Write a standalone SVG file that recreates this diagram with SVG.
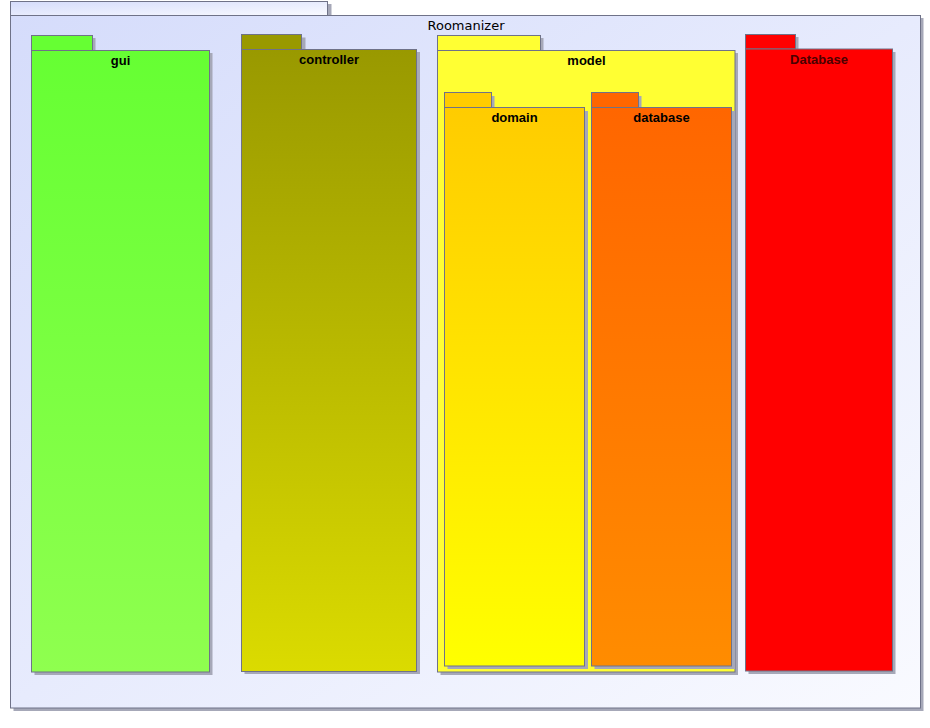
<svg xmlns="http://www.w3.org/2000/svg" width="930" height="728" viewBox="0 0 930 728">
<defs>
<linearGradient id="gOuter" x1="0" y1="0" x2="1" y2="1"><stop offset="0" stop-color="#d5dcfb"/><stop offset="1" stop-color="#f9faff"/></linearGradient>
<linearGradient id="gGui" x1="0" y1="0" x2="0" y2="1"><stop offset="0" stop-color="#66ff33"/><stop offset="1" stop-color="#8fff4f"/></linearGradient>
<linearGradient id="gCtl" x1="0" y1="0" x2="0" y2="1"><stop offset="0" stop-color="#999900"/><stop offset="1" stop-color="#dbdb00"/></linearGradient>
<linearGradient id="gDom" x1="0" y1="0" x2="0" y2="1"><stop offset="0" stop-color="#ffcc00"/><stop offset="1" stop-color="#ffff00"/></linearGradient>
<linearGradient id="gDb" x1="0" y1="0" x2="0" y2="1"><stop offset="0" stop-color="#ff6600"/><stop offset="1" stop-color="#ff8c00"/></linearGradient>
</defs>
<style>
.sh{fill:#a6a8b8}
.b{stroke:#6f7288;stroke-width:1}
.t{font-family:"Liberation Sans",Arial,sans-serif;font-size:13px;font-weight:bold;text-anchor:middle;fill:#000}
.tr{font-family:"DejaVu Sans","Liberation Sans",sans-serif;font-size:13px;text-anchor:middle;fill:#000}
</style>
<rect width="930" height="728" fill="#ffffff"/>
<g id="Roomanizer">
<rect class="sh" x="13.5" y="4" width="318" height="14"/>
<rect class="sh" x="13.5" y="18" width="910" height="693"/>
<rect class="b" x="10.5" y="1.5" width="317" height="14" fill="url(#gOuter)"/>
<rect class="b" x="10.5" y="15.5" width="910" height="692.5" fill="url(#gOuter)"/>
<text class="tr" x="466" y="30">Roomanizer</text>
</g>
<g id="gui">
<rect class="sh" x="34.5" y="38" width="61" height="15"/>
<rect class="sh" x="34.5" y="53" width="178" height="622"/>
<rect class="b" x="31.5" y="35.5" width="61" height="15" fill="#66ff33"/>
<rect class="b" x="31.5" y="50.5" width="178" height="621.5" fill="url(#gGui)"/>
<text class="t" x="120.5" y="65">gui</text>
</g>
<g id="controller">
<rect class="sh" x="244.5" y="37.5" width="61" height="15"/>
<rect class="sh" x="244.5" y="52" width="175.5" height="622"/>
<rect class="b" x="241.5" y="34.5" width="60" height="15" fill="#999900"/>
<rect class="b" x="241.5" y="49.5" width="175" height="622" fill="url(#gCtl)"/>
<text class="t" x="329" y="64">controller</text>
</g>
<g id="model">
<rect class="sh" x="440.5" y="38" width="103" height="15"/>
<rect class="sh" x="440.5" y="53" width="297.5" height="622"/>
<rect class="b" x="437.5" y="35.5" width="103" height="15" fill="#ffff33"/>
<rect class="b" x="437.5" y="50.5" width="297.5" height="621.5" fill="#ffff33"/>
<text class="t" x="586.5" y="65">model</text>
</g>
<g id="domain">
<rect class="sh" x="447.5" y="96" width="47" height="15"/>
<rect class="sh" x="447.5" y="111" width="140.5" height="558"/>
<rect class="b" x="444.5" y="92.5" width="47" height="15" fill="#ffcc00"/>
<rect class="b" x="444.5" y="107.5" width="140" height="558.5" fill="url(#gDom)"/>
<text class="t" x="514.5" y="122">domain</text>
</g>
<g id="database">
<rect class="sh" x="594.5" y="96" width="47" height="15"/>
<rect class="sh" x="594.5" y="111" width="140.5" height="558"/>
<rect class="b" x="591.5" y="92.5" width="47" height="15" fill="#ff6600"/>
<rect class="b" x="591.5" y="107.5" width="140" height="558.5" fill="url(#gDb)"/>
<text class="t" x="661.5" y="122">database</text>
</g>
<g id="Database">
<rect class="sh" x="748.5" y="37" width="50" height="15"/>
<rect class="sh" x="748.5" y="52" width="147" height="622"/>
<rect class="b" x="745.5" y="34.5" width="50" height="14.5" fill="#ff0000"/>
<rect class="b" x="745.5" y="49" width="147" height="622" fill="#ff0000"/>
<text class="t" x="819" y="64" style="fill:#4a0000">Database</text>
</g>
<g id="connectors"/>
</svg>
